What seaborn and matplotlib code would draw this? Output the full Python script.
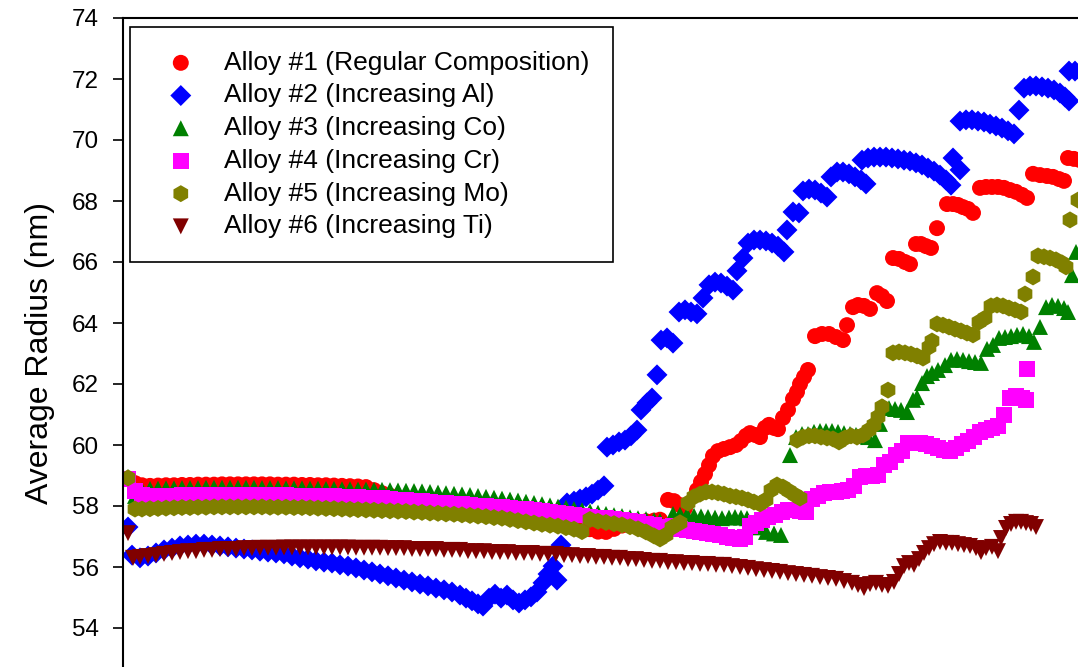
import matplotlib
matplotlib.use("Agg")
import matplotlib.pyplot as plt
import seaborn as sns
import pandas as pd
from matplotlib.transforms import blended_transform_factory

# ---------------- data ----------------
labels = ["Alloy #1 (Regular Composition)", "Alloy #2 (Increasing Al)",
          "Alloy #3 (Increasing Co)", "Alloy #4 (Increasing Cr)",
          "Alloy #5 (Increasing Mo)", "Alloy #6 (Increasing Ti)"]
y_ticks = [54, 56, 58, 60, 62, 64, 66, 68, 70, 72, 74]

# shared early time steps (alloys 1, 3, 4, 5)
step_early = [5, 12, 19, 27, 35, 43, 51, 59, 67, 75, 83, 91, 99, 107, 115, 123, 131, 139, 147, 155,
              163, 171, 179, 187, 195, 203, 211, 219, 227, 235, 243, 251, 259, 267, 275, 283, 291, 299,
              307, 315, 323, 331, 339, 347, 355, 363, 371, 379, 387, 395, 403, 411, 419, 427, 435, 443,
              451, 459, 467, 475, 483, 491, 499, 507, 515, 523, 531, 537]

alloy1_early = [58.90, 58.75, 58.68, 58.66, 58.67, 58.68, 58.68, 58.69, 58.69, 58.70, 58.70, 58.70,
                58.71, 58.71, 58.71, 58.71, 58.71, 58.71, 58.71, 58.70, 58.70, 58.70, 58.69, 58.69,
                58.68, 58.68, 58.67, 58.66, 58.65, 58.64, 58.62, 58.52, 58.42, 58.34, 58.27, 58.23,
                58.20, 58.18, 58.16, 58.14, 58.12, 58.10, 58.08, 58.06, 58.04, 58.02, 58.00, 57.98,
                57.96, 57.94, 57.92, 57.89, 57.86, 57.83, 57.78, 57.66, 57.50, 57.36, 57.24, 57.16,
                57.15, 57.25, 57.36, 57.44, 57.48, 57.50, 57.52, 57.55]
alloy1_step_late = [545, 551, 557, 562, 574, 578, 582, 586, 590, 595, 601, 607, 613, 618, 623, 627,
                    632, 637, 642, 646, 651, 655, 660, 665, 670, 674, 677, 681, 685, 692, 699, 706,
                    713, 720, 724, 730, 735, 741, 747, 754, 759, 764, 770, 776, 782, 787, 793, 798,
                    803, 808, 814, 824, 830, 835, 840, 845, 850, 857, 863, 869, 875, 881, 887, 893,
                    899, 904, 910, 917, 924, 930, 936, 941, 945, 951, 957]
alloy1_late = [58.20, 58.16, 58.03, 57.93, 58.52, 58.79, 59.05, 59.34, 59.64, 59.80, 59.87, 59.93,
               60.00, 60.13, 60.30, 60.39, 60.33, 60.26, 60.56, 60.66, 60.56, 60.52, 60.89, 61.15,
               61.51, 61.74, 62.00, 62.23, 62.46, 63.57, 63.64, 63.64, 63.54, 63.44, 63.93, 64.52,
               64.59, 64.56, 64.46, 64.98, 64.88, 64.72, 66.13, 66.10, 66.00, 65.93, 66.59, 66.59,
               66.52, 66.46, 67.11, 67.90, 67.90, 67.87, 67.80, 67.74, 67.61, 68.43, 68.46, 68.46,
               68.46, 68.43, 68.36, 68.30, 68.20, 68.10, 68.89, 68.85, 68.82, 68.79, 68.72, 68.66,
               69.41, 69.38, 69.34]

alloy2_step = [5, 9, 17, 25, 33, 41, 49, 57, 65, 73, 81, 89, 97, 105, 113, 121, 129, 137, 145, 153,
               161, 169, 177, 185, 193, 201, 209, 217, 225, 233, 241, 249, 257, 265, 273, 281, 289,
               297, 305, 313, 321, 329, 337, 343, 349, 355, 360, 366, 372, 378, 384, 390, 396, 402,
               408, 414, 420, 425, 430, 434, 438, 444, 451, 457, 463, 469, 475, 481, 484, 490, 496,
               502, 508, 514, 518, 524, 529, 534, 538, 544, 550, 556, 562, 568, 574, 580, 586, 592,
               598, 604, 610, 614, 620, 625, 631, 637, 643, 649, 655, 661, 664, 670, 676, 680, 686,
               692, 698, 704, 708, 714, 720, 726, 732, 738, 743, 739, 745, 751, 757, 763, 769, 775,
               781, 787, 793, 799, 805, 811, 817, 823, 828, 830, 837, 837, 843, 849, 855, 861, 867,
               873, 879, 885, 891, 896, 901, 907, 913, 919, 925, 931, 937, 942, 946, 946, 952, 958]
alloy2 = [57.31, 56.39, 56.30, 56.36, 56.46, 56.56, 56.62, 56.69, 56.72, 56.75, 56.75, 56.72, 56.69,
          56.66, 56.62, 56.59, 56.56, 56.52, 56.49, 56.46, 56.43, 56.36, 56.30, 56.26, 56.20, 56.16,
          56.13, 56.07, 56.03, 55.97, 55.90, 55.84, 55.77, 55.71, 55.64, 55.57, 55.51, 55.44, 55.38,
          55.31, 55.25, 55.18, 55.08, 54.98, 54.89, 54.79, 54.72, 54.98, 55.11, 54.98, 55.08, 54.92,
          54.82, 54.92, 55.02, 55.18, 55.48, 55.77, 56.03, 55.57, 56.72, 58.10, 58.16, 58.23, 58.30,
          58.39, 58.52, 58.66, 59.93, 60.00, 60.10, 60.16, 60.30, 60.49, 61.15, 61.38, 61.54, 62.30,
          63.44, 63.51, 63.34, 64.36, 64.43, 64.36, 64.30, 64.82, 65.25, 65.34, 65.31, 65.21, 65.08,
          65.71, 66.13, 66.62, 66.72, 66.72, 66.69, 66.62, 66.52, 66.33, 67.05, 67.64, 67.61, 68.33,
          68.39, 68.36, 68.26, 68.13, 68.79, 68.95, 68.95, 68.89, 68.79, 68.69, 68.56, 69.34, 69.41,
          69.44, 69.44, 69.44, 69.41, 69.38, 69.34, 69.31, 69.25, 69.18, 69.08, 68.98, 68.85, 68.69,
          68.52, 69.41, 69.02, 70.62, 70.66, 70.66, 70.62, 70.59, 70.52, 70.46, 70.39, 70.30, 70.20,
          70.98, 71.70, 71.77, 71.77, 71.74, 71.70, 71.64, 71.54, 71.41, 71.28, 72.26, 72.26, 72.23]

alloy3_early = [58.95, 58.33, 58.52, 58.56, 58.57, 58.58, 58.58, 58.59, 58.59, 58.59, 58.60, 58.60,
                58.60, 58.60, 58.60, 58.60, 58.60, 58.59, 58.59, 58.59, 58.58, 58.58, 58.58, 58.57,
                58.57, 58.56, 58.56, 58.55, 58.55, 58.54, 58.54, 58.53, 58.53, 58.52, 58.51, 58.50,
                58.49, 58.48, 58.46, 58.44, 58.42, 58.40, 58.38, 58.36, 58.33, 58.30, 58.27, 58.24,
                58.21, 58.18, 58.14, 58.10, 58.06, 58.02, 57.98, 57.94, 57.90, 57.86, 57.82, 57.78,
                57.74, 57.70, 57.67, 57.63, 57.60, 57.57, 57.54, 57.51]
alloy3_step_late = [550, 557, 564, 571, 578, 585, 592, 599, 606, 612, 618, 624, 637, 643, 651, 658,
                    667, 673, 679, 685, 691, 697, 703, 709, 715, 721, 727, 733, 739, 745, 752, 757,
                    760, 766, 772, 778, 784, 790, 794, 799, 804, 809, 815, 822, 828, 834, 840, 846,
                    852, 858, 864, 870, 876, 882, 888, 894, 900, 906, 911, 917, 923, 929, 935, 941,
                    945, 949, 953]
alloy3_late = [57.74, 57.72, 57.70, 57.68, 57.66, 57.64, 57.62, 57.60, 57.62, 57.64, 57.62, 57.60,
               57.30, 57.15, 57.10, 57.05, 59.67, 60.26, 60.36, 60.36, 60.43, 60.46, 60.46, 60.46,
               60.43, 60.39, 60.36, 60.33, 60.30, 60.26, 60.16, 60.69, 61.25, 61.21, 61.18, 61.15,
               61.08, 61.48, 61.57, 62.03, 62.26, 62.36, 62.46, 62.62, 62.79, 62.82, 62.79, 62.75,
               62.72, 62.69, 63.15, 63.28, 63.51, 63.54, 63.57, 63.61, 63.64, 63.57, 63.38, 63.87,
               64.52, 64.59, 64.56, 64.49, 64.36, 65.57, 66.33]

alloy4_early = [58.88, 58.50, 58.36, 58.33, 58.34, 58.35, 58.35, 58.36, 58.36, 58.37, 58.37, 58.37,
                58.37, 58.37, 58.37, 58.37, 58.37, 58.37, 58.36, 58.36, 58.36, 58.35, 58.35, 58.34,
                58.34, 58.33, 58.32, 58.31, 58.30, 58.29, 58.28, 58.27, 58.26, 58.24, 58.22, 58.20,
                58.18, 58.16, 58.14, 58.12, 58.10, 58.08, 58.06, 58.04, 58.02, 58.00, 57.98, 57.96,
                57.94, 57.92, 57.90, 57.87, 57.84, 57.81, 57.78, 57.75, 57.72, 57.69, 57.66, 57.63,
                57.60, 57.57, 57.54, 57.51, 57.47, 57.43, 57.38, 57.33]
alloy4_step_late = [544, 550, 557, 564, 571, 577, 584, 590, 597, 604, 610, 617, 622, 627, 633, 639,
                    645, 652, 659, 665, 671, 677, 683, 689, 695, 701, 707, 713, 719, 725, 731, 737,
                    743, 749, 755, 761, 767, 773, 779, 785, 791, 797, 803, 809, 815, 821, 827, 833,
                    839, 845, 851, 857, 863, 869, 875, 881, 887, 893, 899, 903, 904]
alloy4_late = [57.28, 57.34, 57.25, 57.21, 57.18, 57.15, 57.12, 57.08, 57.05, 56.98, 56.95, 56.92,
               56.98, 57.34, 57.44, 57.54, 57.64, 57.70, 57.80, 57.87, 57.87, 57.84, 57.80, 58.23,
               58.33, 58.43, 58.46, 58.46, 58.49, 58.52, 58.66, 58.95, 58.98, 58.98, 59.02, 59.34,
               59.44, 59.67, 59.80, 60.07, 60.07, 60.07, 60.03, 59.97, 59.90, 59.84, 59.80, 59.90,
               60.03, 60.13, 60.26, 60.43, 60.49, 60.56, 60.62, 60.98, 61.54, 61.61, 61.54, 61.48,
               62.49]

alloy5_early = [58.92, 57.90, 57.90, 57.91, 57.92, 57.93, 57.94, 57.95, 57.95, 57.96, 57.96, 57.97,
                57.97, 57.97, 57.97, 57.97, 57.97, 57.97, 57.96, 57.96, 57.96, 57.95, 57.95, 57.94,
                57.93, 57.92, 57.91, 57.90, 57.89, 57.88, 57.87, 57.86, 57.85, 57.84, 57.83, 57.82,
                57.80, 57.79, 57.77, 57.76, 57.74, 57.73, 57.71, 57.69, 57.67, 57.65, 57.62, 57.60,
                57.56, 57.52, 57.48, 57.44, 57.40, 57.37, 57.34, 57.29, 57.24, 57.16, 57.56, 57.50,
                57.46, 57.42, 57.38, 57.32, 57.25, 57.15, 57.02, 56.92]
alloy5_step_late = [543, 549, 557,
                    565, 571, 577, 583, 589, 595, 601, 607, 613, 619, 625, 631, 637, 643, 648, 654,
                    660, 666, 672, 677,
                    674, 680, 686, 692, 698, 704, 710, 716, 722, 728, 734, 740, 746, 751, 755, 759,
                    765, 770, 776, 782, 788, 794, 800, 806, 809, 814, 820, 826, 832, 838, 844, 850,
                    856, 862, 868, 874, 880, 886, 892, 898, 902, 910, 915, 921, 927, 933, 939, 943,
                    947, 955]
alloy5_late = [57.05, 57.30, 57.45,
               58.10, 58.30, 58.39, 58.46, 58.46, 58.43, 58.39, 58.33, 58.30, 58.26, 58.20, 58.13,
               58.07, 58.20, 58.52, 58.69, 58.62, 58.49, 58.36, 58.26,
               60.16, 60.26, 60.30, 60.30, 60.26, 60.23, 60.20, 60.10, 60.23, 60.30, 60.26, 60.33,
               60.49, 60.66, 60.92, 61.25, 61.80, 63.02, 63.05, 63.02, 62.98, 62.92, 62.85, 63.21,
               63.41, 63.97, 63.93, 63.87, 63.80, 63.74, 63.67, 63.61, 64.03, 64.16, 64.56, 64.59,
               64.56, 64.49, 64.43, 64.36, 64.95, 65.51, 66.20, 66.17, 66.13, 66.07, 65.97, 65.84,
               67.38, 68.03]

alloy6_step = [5, 10, 17, 25, 33, 41, 49, 57, 65, 73, 81, 89, 97, 105, 113, 121, 129, 137, 145, 153,
               161, 169, 177, 185, 193, 201, 209, 217, 225, 233, 241, 249, 257, 265, 273, 281, 289,
               297, 305, 313, 321, 329, 337, 345, 353, 361, 369, 377, 385, 393, 401, 409, 417, 425,
               433, 441, 449, 457, 465, 473, 481, 489, 497, 505, 513, 521, 529, 537, 545, 553, 561,
               569, 577, 585, 593, 601, 609, 617, 625, 633, 641, 649, 657, 665, 673, 681, 689, 697,
               705, 713, 721, 729, 735, 741, 747, 753, 759, 765, 771, 776, 781, 786, 791, 796, 801,
               806, 811, 817, 823, 829, 835, 841, 847, 853, 858, 863, 869, 875, 878, 883, 888, 893,
               898, 903, 908, 913]
alloy6 = [57.11, 56.30, 56.33, 56.36, 56.39, 56.43, 56.46, 56.49, 56.52, 56.52, 56.56, 56.56, 56.59,
          56.59, 56.59, 56.62, 56.62, 56.63, 56.63, 56.63, 56.64, 56.64, 56.64, 56.64, 56.64, 56.64,
          56.64, 56.64, 56.64, 56.63, 56.63, 56.63, 56.63, 56.62, 56.62, 56.62, 56.59, 56.59, 56.59,
          56.59, 56.56, 56.56, 56.56, 56.52, 56.52, 56.52, 56.49, 56.49, 56.49, 56.46, 56.46, 56.46,
          56.43, 56.43, 56.43, 56.39, 56.39, 56.36, 56.36, 56.33, 56.33, 56.30, 56.30, 56.26, 56.26,
          56.23, 56.20, 56.20, 56.16, 56.16, 56.13, 56.13, 56.10, 56.10, 56.07, 56.07, 56.03, 56.00,
          55.97, 55.93, 55.90, 55.87, 55.84, 55.80, 55.77, 55.74, 55.71, 55.67, 55.64, 55.61, 55.54,
          55.48, 55.41, 55.31, 55.44, 55.48, 55.41, 55.38, 55.51, 55.77, 56.03, 56.13, 56.07, 56.26,
          56.46, 56.62, 56.75, 56.82, 56.79, 56.79, 56.75, 56.72, 56.69, 56.62, 56.49, 56.62, 56.66,
          56.52, 56.95, 57.28, 57.41, 57.48, 57.48, 57.44, 57.41, 57.31]

colors = ["#FF0000", "#0000FF", "#008000", "#FF00FF", "#808000", "#800000"]
markers = ["o", "D", "^", "s", "h", "v"]
sizes = [132, 114, 132, 125, 149, 132]

steps = [step_early + alloy1_step_late, alloy2_step, step_early + alloy3_step_late,
         step_early + alloy4_step_late, step_early + alloy5_step_late, alloy6_step]
radii = [alloy1_early + alloy1_late, alloy2, alloy3_early + alloy3_late,
         alloy4_early + alloy4_late, alloy5_early + alloy5_late, alloy6]

# ---------------- plot ----------------
sns.set_theme(style="ticks")
plt.rcParams["font.family"] = ["Liberation Sans", "DejaVu Sans"]
plt.rcParams["text.color"] = "black"
plt.rcParams["axes.labelcolor"] = "black"

W, H = 1078, 667
fig = plt.figure(figsize=(W / 100, H / 100), dpi=100)
ax = fig.add_axes([123 / W, -22 / H, 1000 / W, 671 / H])

for lab, xs, ys, c, m, s in zip(labels, steps, radii, colors, markers, sizes):
    df = pd.DataFrame({"step": xs, "radius": ys})
    sns.scatterplot(data=df, x="step", y="radius", color=c, marker=m, s=s,
                    linewidth=0, edgecolor="none", ax=ax, label=lab)

ax.set_xlim(0, 1000)
ax.set_ylim(52, 74)
ax.set_yticks(y_ticks)
ax.set_xlabel("")
ax.tick_params(axis="x", bottom=False, labelbottom=False)
ax.tick_params(axis="y", direction="out", length=7, width=1.2, pad=10.5,
               labelsize=17.5, colors="black")
for side in ["left", "top", "right", "bottom"]:
    ax.spines[side].set_visible(True)
    ax.spines[side].set_linewidth(1.5)
    ax.spines[side].set_color("black")

ax.set_ylabel("Average Radius (nm)", fontsize=23, color="black")
ax.yaxis.set_label_coords(55 / W, 0.5,
                          transform=blended_transform_factory(fig.transFigure, ax.transAxes))

leg = ax.legend(loc="upper left", bbox_to_anchor=(130 / W, 1 - 27 / H),
                bbox_transform=fig.transFigure, frameon=True, fancybox=False,
                edgecolor="black", framealpha=1, fontsize=19, borderpad=0.9,
                handlelength=2.05, handletextpad=0.61, labelspacing=0.33,
                borderaxespad=0, scatterpoints=1, markerscale=1)
leg.get_frame().set_linewidth(1.2)
for t in leg.get_texts():
    t.set_color("black")

fig.savefig("out.png", dpi=100)
